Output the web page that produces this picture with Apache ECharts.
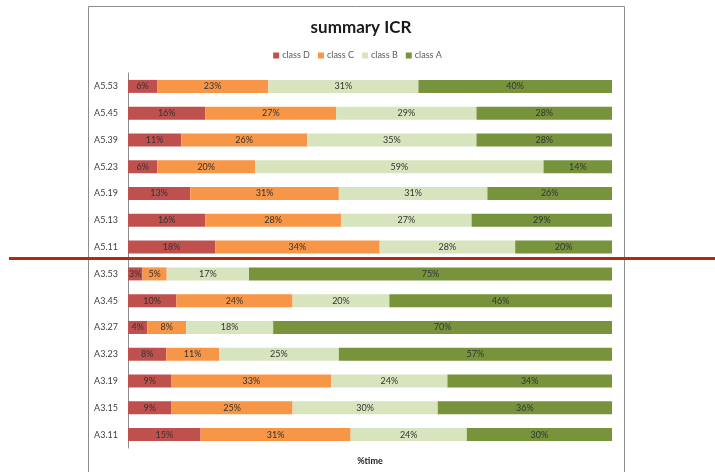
<!DOCTYPE html>
<html>
<head>
<meta charset="utf-8">
<script src="https://cdn.jsdelivr.net/npm/echarts@6/dist/echarts.min.js"></script>
<style>html,body{margin:0;padding:0;background:#fff}#c{width:715px;height:472px}</style>
</head>
<body>
<div id="c"></div>
<script>
const categories = ['A5.53','A5.45','A5.39','A5.23','A5.19','A5.13','A5.11','A3.53','A3.45','A3.27','A3.23','A3.19','A3.15','A3.11'];
const seriesNames = ['class D','class C','class B','class A'];
const classD = [6,16,11,6,13,16,18,3,10,4,8,9,9,15];
const classC = [23,27,26,20,31,28,34,5,24,8,11,33,25,31];
const classB = [31,29,35,59,31,27,28,17,20,18,25,24,30,24];
const classA = [40,28,28,14,26,29,20,75,46,70,57,34,36,30];
const colors = ['#C0504D','#F79646','#D7E4BD','#77933C'];

const raw = [classD, classC, classB, classA];
const totals = categories.map((_, i) => raw.reduce((s, a) => s + a[i], 0));
const font = 'Lato, "Open Sans", sans-serif';

const chart = echarts.init(document.getElementById('c'));
chart.setOption({
  animation: false,
  title: {
    text: 'summary ICR', left: 356, top: 14, textAlign: 'center',
    textStyle: { fontFamily: font, fontWeight: 'bold', fontSize: 17, color: '#1a1a1a' }
  },
  legend: {
    data: seriesNames, top: 46, left: 'center',
    itemWidth: 6, itemHeight: 6, itemGap: 8, icon: 'rect',
    textStyle: { fontFamily: font, fontSize: 9, color: '#595959', padding: [0,0,0,-2] }
  },
  grid: { left: 128, right: 103, top: 73, bottom: 24 },
  xAxis: {
    type: 'value', min: 0, max: 100,
    axisLine: { show: false }, axisTick: { show: false }, axisLabel: { show: false },
    splitLine: { show: false },
    name: '%time', nameLocation: 'middle', nameGap: 9,
    nameTextStyle: { fontFamily: font, fontSize: 9, fontWeight: 'bold', color: '#1a1a1a' }
  },
  yAxis: {
    type: 'category', data: categories, inverse: true,
    axisLine: { show: true, lineStyle: { color: '#8c8c8c', width: 1 } },
    axisTick: { show: false },
    axisLabel: { margin: 10, fontFamily: font, fontSize: 9, color: '#404040' }
  },
  series: raw.map((arr, k) => ({
    name: seriesNames[k], type: 'bar', stack: 'all', barWidth: 13,
    itemStyle: { color: colors[k] },
    data: arr.map((v, i) => ({ value: v / totals[i] * 100, raw: v })),
    label: {
      show: true, position: 'inside', fontFamily: font, fontSize: 9, color: '#333',
      formatter: p => p.data.raw + '%'
    }
  })),
  graphic: [
    { type: 'rect', shape: { x: 88.5, y: 6.5, width: 536, height: 480 }, style: { fill: 'none', stroke: '#8c8c8c', lineWidth: 1 }, z: -1 },
    { type: 'rect', shape: { x: 9, y: 257, width: 706, height: 3 }, style: { fill: '#B22A10' }, z: 100 }
  ]
});
</script>
</body>
</html>
